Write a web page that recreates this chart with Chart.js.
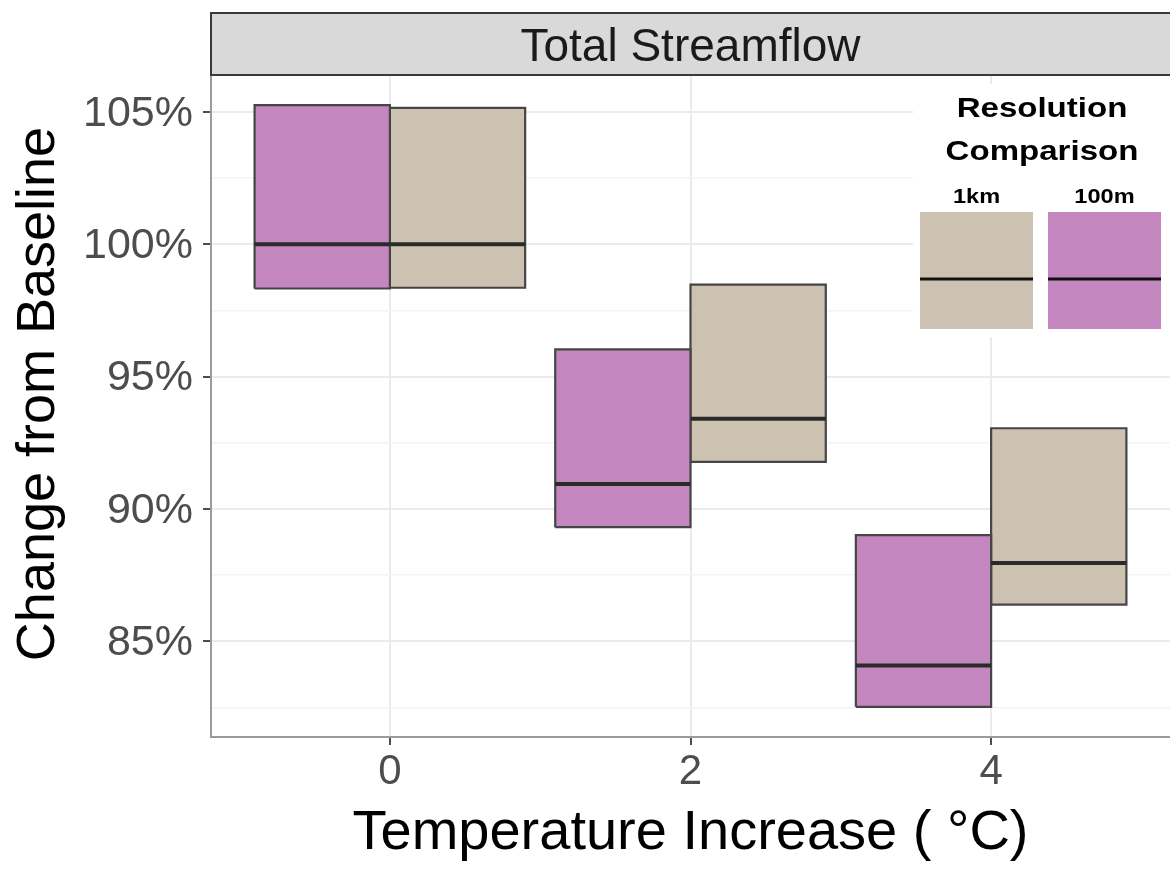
<!DOCTYPE html>
<html>
<head>
<meta charset="utf-8">
<title>Total Streamflow</title>
<script src="https://cdn.jsdelivr.net/npm/chart.js@4/dist/chart.umd.min.js"></script>
<style>
  html, body { margin: 0; padding: 0; background: #ffffff; }
  canvas { display: block; }
</style>
</head>
<body>
<canvas id="chart" width="1170" height="882"></canvas>
<script>
// Warming scenarios (°C) and the spread of total streamflow relative to baseline (%)
const temperatures = [0, 2, 4];

const upper100m  = [105.26, 96.03, 89.01];
const median100m = [100.00, 90.94, 84.08];
const lower100m  = [98.33, 89.31, 82.52];

const upper1km  = [105.16, 98.48, 93.05];
const median1km = [100.00, 93.41, 87.96];
const lower1km  = [98.36, 91.78, 86.38];

const yMajorTicks = [85, 90, 95, 100, 105];
const yMinorTicks = [82.5, 87.5, 92.5, 97.5, 102.5];
const xTicks = [0, 2, 4];

const panelTitle = 'Total Streamflow';
const xTitle = 'Temperature Increase ( °C)';
const yTitle = 'Change from Baseline';
const legendTitle = ['Resolution', 'Comparison'];
const seriesNames = ['1km', '100m'];

const COL_100M = '#c386be';
const COL_1KM = '#cdc2b2';
const BOX_EDGE = '#454545';
const MEDIAN_COL = '#2a2a2a';
const DODGE = 0.9;   // each resolution takes 0.9 °C of width beside its scenario
const FONT = "'Liberation Sans', Arial, Helvetica, sans-serif";

// Build one closed rectangle per box plus its median segment
function boxDatasets(lows, highs, meds, fill, side) {
  const out = [];
  temperatures.forEach((t, i) => {
    const x0 = side < 0 ? t - DODGE : t;
    const x1 = side < 0 ? t : t + DODGE;
    out.push({
      data: [
        { x: x0, y: lows[i] }, { x: x1, y: lows[i] },
        { x: x1, y: highs[i] }, { x: x0, y: highs[i] },
        { x: x0, y: lows[i] }
      ],
      showLine: true, fill: 'shape', backgroundColor: fill,
      borderColor: BOX_EDGE, borderWidth: 2.2, pointRadius: 0, tension: 0,
      order: 2
    });
    out.push({
      data: [{ x: x0, y: meds[i] }, { x: x1, y: meds[i] }],
      showLine: true, fill: false, borderColor: MEDIAN_COL, borderWidth: 4,
      pointRadius: 0, order: 1
    });
  });
  return out;
}

const datasets = [
  ...boxDatasets(lower100m, upper100m, median100m, COL_100M, -1),
  ...boxDatasets(lower1km, upper1km, median1km, COL_1KM, +1)
];

// Grey facet strip above the panel
const stripPlugin = {
  id: 'strip',
  afterDraw(chart) {
    const { ctx, chartArea: a } = chart;
    const top = 13;
    ctx.save();
    ctx.fillStyle = '#d9d9d9';
    ctx.fillRect(a.left, top, a.right - a.left, a.top - top);
    ctx.strokeStyle = '#3a3a3a';
    ctx.lineWidth = 2;
    ctx.beginPath();
    ctx.moveTo(a.right + 2, top);
    ctx.lineTo(a.left, top);
    ctx.lineTo(a.left, a.top);
    ctx.lineTo(a.right + 2, a.top);
    ctx.stroke();
    ctx.fillStyle = '#1a1a1a';
    ctx.font = '46px ' + FONT;
    ctx.textAlign = 'center';
    ctx.textBaseline = 'alphabetic';
    ctx.fillText(panelTitle, (a.left + a.right) / 2, 61);
    ctx.restore();
  }
};

// Rotated y-axis title
const yTitlePlugin = {
  id: 'yTitle',
  afterDraw(chart) {
    const { ctx, chartArea: a } = chart;
    ctx.save();
    ctx.translate(54, (a.top + a.bottom) / 2 - 12);
    ctx.rotate(-Math.PI / 2);
    ctx.fillStyle = '#000000';
    ctx.font = '54px ' + FONT;
    ctx.textAlign = 'center';
    ctx.textBaseline = 'alphabetic';
    ctx.fillText(yTitle, 0, 0);
    ctx.restore();
  }
};

// Inset key: title, resolution names and a swatch with a median bar for each
const keyPlugin = {
  id: 'resolutionKey',
  beforeDatasetsDraw(chart) {
    const { ctx, chartArea: a } = chart;
    const left = a.right - 257;
    ctx.save();
    ctx.fillStyle = '#ffffff';
    ctx.fillRect(left, 84, a.right - left, 253);

    const stretched = (text, x, y, size) => {
      ctx.save();
      ctx.translate(x, y);
      ctx.scale(1.18, 1);
      ctx.font = 'bold ' + size + 'px ' + FONT;
      ctx.textAlign = 'center';
      ctx.textBaseline = 'alphabetic';
      ctx.fillStyle = '#000000';
      ctx.fillText(text, 0, 0);
      ctx.restore();
    };
    stretched(legendTitle[0], a.right - 128, 117, 28);
    stretched(legendTitle[1], a.right - 128, 160, 28);

    const swatches = [
      { name: seriesNames[0], color: COL_1KM, x: a.right - 250 },
      { name: seriesNames[1], color: COL_100M, x: a.right - 122 }
    ];
    swatches.forEach(s => {
      const w = 113, top = 212, h = 117;
      stretched(s.name, s.x + w / 2, 203, 20);
      ctx.fillStyle = s.color;
      ctx.fillRect(s.x, top, w, h);
      ctx.strokeStyle = '#111111';
      ctx.lineWidth = 3;
      ctx.beginPath();
      ctx.moveTo(s.x, 279);
      ctx.lineTo(s.x + w, 279);
      ctx.stroke();
    });
    ctx.restore();
  }
};

const isMajorY = v => yMajorTicks.includes(v);

new Chart(document.getElementById('chart'), {
  type: 'scatter',
  data: { datasets },
  options: {
    responsive: false,
    animation: false,
    devicePixelRatio: 1,
    layout: { padding: { top: 75, left: 0, right: 0, bottom: 0 } },
    plugins: {
      legend: { display: false },
      tooltip: { enabled: false }
    },
    scales: {
      x: {
        type: 'linear',
        min: -1.19,
        max: 5.19,
        afterBuildTicks: scale => { scale.ticks = xTicks.map(v => ({ value: v })); },
        afterFit: scale => { scale.height = 145; },
        ticks: {
          autoSkip: false,
          color: '#4d4d4d',
          font: { family: FONT, size: 42 },
          padding: 2,
          callback: v => String(v)
        },
        grid: {
          color: '#ebebeb',
          lineWidth: 2,
          tickLength: 8,
          tickColor: '#4d4d4d',
          tickWidth: 2
        },
        border: { display: true, color: '#9a9a9a', width: 2 },
        title: {
          display: true,
          text: xTitle,
          color: '#000000',
          font: { family: FONT, size: 56 },
          padding: { top: 0, bottom: 15 }
        }
      },
      y: {
        type: 'linear',
        min: 81.38,
        max: 106.40,
        afterBuildTicks: scale => {
          scale.ticks = [...yMinorTicks, ...yMajorTicks]
            .sort((p, q) => p - q)
            .map(v => ({ value: v }));
        },
        afterFit: scale => { scale.width = 211; },
        ticks: {
          autoSkip: false,
          color: '#4d4d4d',
          font: { family: FONT, size: 43 },
          padding: 10,
          labelOffset: 2,
          callback: v => (isMajorY(v) ? v + '%' : '')
        },
        grid: {
          color: ctx => (isMajorY(ctx.tick.value) ? '#ebebeb' : '#f3f3f3'),
          lineWidth: ctx => (isMajorY(ctx.tick.value) ? 2 : 1.5),
          tickLength: 8,
          tickColor: ctx => (isMajorY(ctx.tick.value) ? '#4d4d4d' : 'rgba(0,0,0,0)'),
          tickWidth: 2
        },
        border: { display: true, color: '#9a9a9a', width: 2 }
      }
    }
  },
  plugins: [keyPlugin, stripPlugin, yTitlePlugin]
});
</script>
</body>
</html>
